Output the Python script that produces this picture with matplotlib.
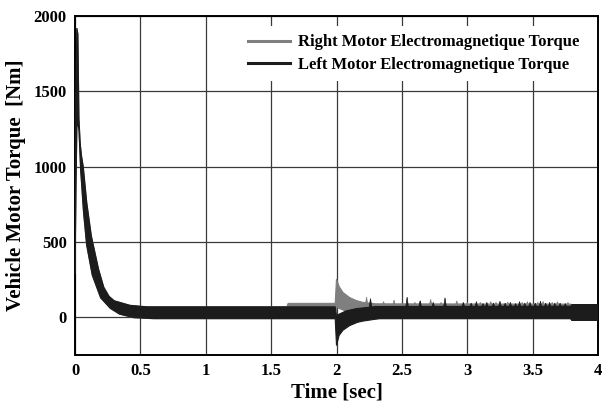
import matplotlib
matplotlib.use("Agg")
import matplotlib.pyplot as plt
from matplotlib.lines import Line2D

# ---------------- data ----------------
# Left motor (black) envelope of the oscillating torque band
left_t_up = [0, 0.006, 0.014, 0.022, 0.03, 0.04, 0.05, 0.063, 0.09, 0.125, 0.18, 0.22,
             0.26, 0.3, 0.42, 0.55, 1.99, 2.0, 2.07, 2.15, 2.3, 3.79, 3.8, 4.0]
left_up = [300, 1500, 1920, 1880, 1320, 1150, 1070, 1000, 760, 540, 320, 200,
           140, 110, 80, 70, 70, 13, 42, 58, 72, 74, 85, 85]
left_t_lo = [0, 0.008, 0.015, 0.03, 0.043, 0.065, 0.089, 0.132, 0.196, 0.27, 0.34, 0.45,
             0.6, 1.99, 2.0, 2.02, 2.05, 2.1, 2.16, 2.2, 2.33, 3.79, 3.8, 4.0]
left_lo = [290, 900, 1300, 1250, 980, 700, 480, 280, 130, 60, 22, -2,
           -8, -8, -187, -120, -85, -55, -33, -25, -8, -8, -20, -20]

# Right motor (grey) envelope
right_t_up = [0, 0.006, 0.014, 0.022, 0.03, 0.04, 0.05, 0.063, 0.09, 0.125, 0.18, 0.22,
              0.26, 0.3, 0.42, 0.55, 1.62, 1.63, 1.99, 2.0, 2.02, 2.05, 2.1, 2.15,
              2.2, 2.3, 3.79, 3.8, 4.0]
right_up = [310, 1500, 1920, 1880, 1320, 1150, 1070, 1000, 760, 540, 320, 200,
            140, 110, 80, 70, 70, 93, 93, 255, 205, 165, 132, 112,
            100, 90, 88, 85, 85]
right_t_lo = [0, 0.008, 0.015, 0.03, 0.043, 0.065, 0.089, 0.132, 0.196, 0.27, 0.34, 0.45,
              0.6, 1.99, 2.0, 2.07, 2.15, 2.3, 3.79, 3.8, 4.0]
right_lo = [290, 900, 1300, 1250, 980, 700, 480, 280, 130, 60, 22, -2,
            -9, -9, 67, 42, 10, -9, -9, -20, -20]

# Spikes above the band after the load change
left_spike_t = [2.26, 2.54, 2.64, 2.74, 2.83, 2.97, 3.03, 3.07, 3.12, 3.15, 3.2, 3.25,
                3.29, 3.33, 3.37, 3.40, 3.44, 3.48, 3.52, 3.56, 3.6, 3.63, 3.67, 3.71, 3.75]
left_spike_v = [125, 135, 110, 100, 130, 100, 95, 105, 92, 100, 95, 108,
                95, 100, 92, 105, 95, 100, 95, 108, 95, 100, 95, 95, 92]
right_spike_t = [2.23, 2.36, 2.44, 2.60, 2.64, 2.72, 2.80, 2.92, 3.0, 3.1, 3.18, 3.22,
                 3.31, 3.42, 3.46, 3.54, 3.58, 3.65, 3.69, 3.77]
right_spike_v = [135, 105, 115, 100, 110, 120, 100, 110, 100, 100, 105, 100,
                 102, 100, 105, 100, 106, 100, 104, 100]

x_ticks = [0, 0.5, 1, 1.5, 2, 2.5, 3, 3.5, 4]
x_tick_labels = ["0", "0.5", "1", "1.5", "2", "2.5", "3", "3.5", "4"]
y_ticks = [0, 500, 1000, 1500, 2000]
y_tick_labels = ["0", "500", "1000", "1500", "2000"]

# ---------------- style ----------------
BLACK = "#1c1c1c"
GREY = "#7f7f7f"
plt.rcParams["font.family"] = ["Liberation Serif", "DejaVu Serif"]
plt.rcParams["font.weight"] = "bold"

fig = plt.figure(figsize=(6.03, 4.03), dpi=100)
ax = fig.add_axes([0.1244, 0.119, 0.8673, 0.841])


def band(ax, t_up, up, t_lo, lo, color, z):
    xs = list(t_up) + list(t_lo)[::-1]
    ys = list(up) + list(lo)[::-1]
    ax.fill(xs, ys, color=color, lw=0.8, ec=color, zorder=z)


def spikes(ax, ts, vs, base, color, z, w=0.01):
    for t, v in zip(ts, vs):
        ax.fill([t - w, t, t + w], [base, v, base], color=color, lw=0.5, ec=color, zorder=z)


band(ax, right_t_up, right_up, right_t_lo, right_lo, GREY, 2)
spikes(ax, right_spike_t, right_spike_v, 80, GREY, 2)
band(ax, left_t_up, left_up, left_t_lo, left_lo, BLACK, 3)
spikes(ax, left_spike_t, left_spike_v, 70, BLACK, 3)

ax.set_xlim(0, 4)
ax.set_ylim(-250, 2000)
ax.set_xticks(x_ticks)
ax.set_xticklabels(x_tick_labels)
ax.set_yticks(y_ticks)
ax.set_yticklabels(y_tick_labels)
ax.tick_params(length=0, labelsize=12, pad=6)
for lab in ax.get_xticklabels() + ax.get_yticklabels():
    lab.set_fontweight("bold")

ax.grid(True, color="#3a3a3a", lw=0.9, zorder=1)
ax.set_axisbelow(True)
for s in ax.spines.values():
    s.set_linewidth(1.4)
    s.set_color("black")

ax.set_xlabel("Time [sec]", fontsize=15, fontweight="bold", labelpad=2)
ax.set_ylabel("Vehicle Motor Torque  [Nm]", fontsize=15, fontweight="bold", labelpad=5)

handles = [Line2D([0], [0], color=GREY, lw=2.2),
           Line2D([0], [0], color=BLACK, lw=2.2)]
leg = ax.legend(handles, ["Right Motor Electromagnetique Torque",
                          "Left Motor Electromagnetique Torque"],
                loc="upper right", bbox_to_anchor=(0.997, 0.995),
                frameon=True, fancybox=False, framealpha=1, edgecolor="none",
                facecolor="white", handlelength=2.5, handletextpad=0.5,
                labelspacing=0.4, borderpad=0.5, prop={"weight": "bold", "size": 12})
leg.set_zorder(5)

fig.savefig("out.png", dpi=100)
